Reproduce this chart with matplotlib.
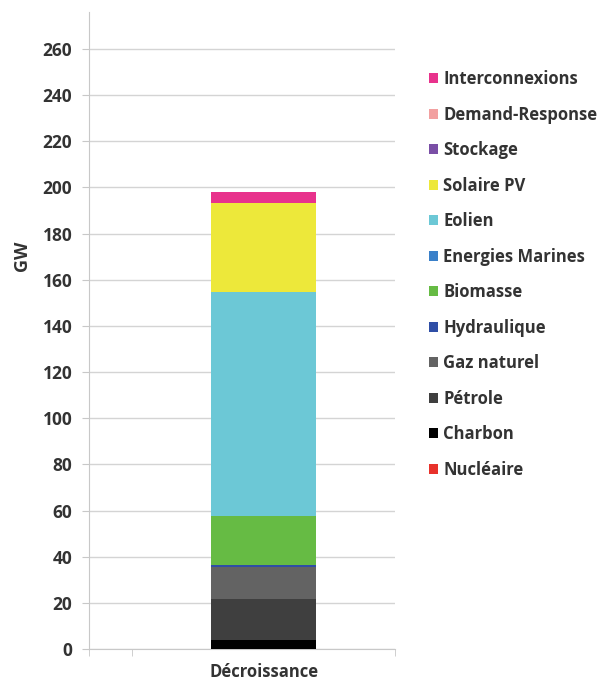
import matplotlib.pyplot as plt
from matplotlib.patches import Patch

plt.rcParams["font.family"] = ["Open Sans", "DejaVu Sans"]

# ── data (GW, scenario "Décroissance") ───────────────────────────────────────
categories = ["Décroissance"]
sources = ["Nucléaire", "Charbon", "Pétrole", "Gaz naturel", "Hydraulique",
           "Biomasse", "Energies Marines", "Eolien", "Solaire PV", "Stockage",
           "Demand-Response", "Interconnexions"]
values = [0, 4, 17.5, 14.2, 0.8, 21.3, 0, 97, 38.6, 0, 0, 4.5]
colors = ["#e8322b", "#000000", "#3f3f3f", "#636363", "#2f4ea6", "#66bb44",
          "#3a80c9", "#6cc8d6", "#ede83a", "#7a4fa6", "#f2a0a0", "#e8328c"]
yticks = list(range(0, 261, 20))

fig = plt.figure(figsize=(6.04, 6.84), dpi=100)
ax = fig.add_axes([89 / 604, 35 / 684, 306 / 604, 637 / 684])

bottom = 0
for name, v, c in zip(sources, values, colors):
    ax.bar(0, v, bottom=bottom, width=0.6, color=c, zorder=3)
    bottom += v

ax.set_xlim(-1.0, 0.75)
ax.set_ylim(0, 276)
ax.set_yticks(yticks)
ax.set_xticks([0])
ax.set_xticklabels(categories)
ax.set_xticks([-1.0, -0.755, 0.75], minor=True)
ax.tick_params(axis="x", which="major", length=0, pad=10,
               labelsize=12, labelcolor="#333333")
ax.tick_params(axis="x", which="minor", length=5, color="#c8c8c8", direction="out")
ax.tick_params(axis="y", length=5, color="#c8c8c8", labelsize=12.5,
               labelcolor="#333333", pad=7)
for lab in ax.get_xticklabels() + ax.get_yticklabels():
    lab.set_fontweight("bold")

ax.grid(axis="y", color="#d4d4d4", linewidth=1, zorder=0)
for s in ["top", "right"]:
    ax.spines[s].set_visible(False)
ax.spines["left"].set_color("#c8c8c8")
ax.spines["bottom"].set_color("#c8c8c8")

ax.set_ylabel("GW", fontsize=13, fontweight="bold", color="#333333")
ax.yaxis.set_label_coords(-0.19, 0.617)

handles = [Patch(facecolor=c, label=n) for n, c in zip(sources, colors)][::-1]
leg = fig.legend(handles=handles, loc="upper left",
                 bbox_to_anchor=(421 / 604, 1 - 62 / 684), frameon=False,
                 fontsize=12, labelspacing=1.05, handlelength=0.55,
                 handleheight=0.55, handletextpad=0.3, borderpad=0)
for t in leg.get_texts():
    t.set_fontweight("bold")
    t.set_color("#333333")

fig.savefig("out.png", dpi=100)
